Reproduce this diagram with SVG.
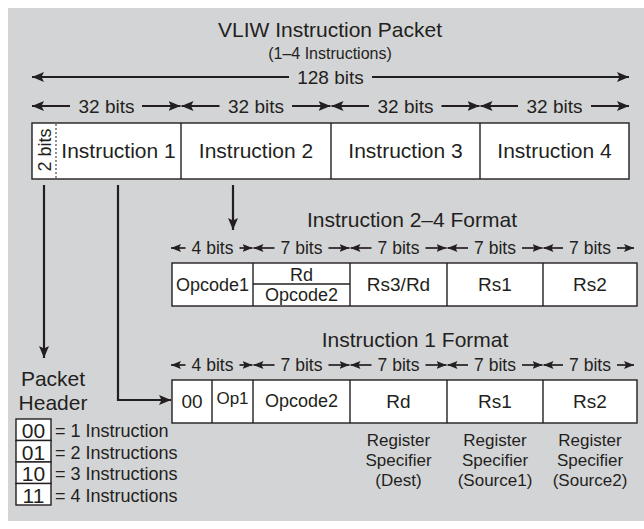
<svg xmlns="http://www.w3.org/2000/svg" width="644" height="529" viewBox="0 0 644 529">
  <style>
    text { font-family: "Liberation Sans", Arial, sans-serif; fill: #231f20; text-anchor: middle; }
    .title { font-size: 21px; }
    .sub { font-size: 16px; }
    .w32 { font-size: 19px; }
    .w7 { font-size: 17.5px; }
    .cell { font-size: 21px; }
    .fld { font-size: 19px; }
    .fs { font-size: 18px; }
    .note { font-size: 17px; }
    .leg { font-size: 18px; text-anchor: start; }
    .box { fill: #ffffff; stroke: #231f20; stroke-width: 1.4; }
    .div { stroke: #231f20; stroke-width: 1.4; fill: none; }
    .dot { stroke: #555; stroke-width: 1.3; stroke-dasharray: 2 2; }
    .big { stroke: #231f20; stroke-width: 2.2; fill: none; marker-end: url(#ah); }
    .small { stroke: #231f20; stroke-width: 1.7; fill: none; marker-end: url(#ahs); }
  </style>
  <defs>
    <marker id="ah" viewBox="0 0 12 10" refX="12" refY="5" markerWidth="12" markerHeight="10" markerUnits="userSpaceOnUse" orient="auto">
      <path d="M0,0 L12,5 L0,10 L2.5,5 z" fill="#231f20"/>
    </marker>
    <marker id="ahs" viewBox="0 0 10 8" refX="10" refY="4" markerWidth="10" markerHeight="8" markerUnits="userSpaceOnUse" orient="auto">
      <path d="M0,0 L10,4 L0,8 L2,4 z" fill="#231f20"/>
    </marker>
  </defs>

  <!-- panel -->
  <rect x="8" y="8" width="636" height="513" fill="#d3d4d6"/>

  <g id="title">
    <text class="title" x="330" y="37">VLIW Instruction Packet</text>
    <text class="sub" x="330" y="59">(1–4 Instructions)</text>
  </g>

  <!-- width labels -->
  <g id="widths">
    <text class="w32" x="330.5" y="84">128 bits</text>
    <text class="w32" x="106.5" y="113">32 bits</text>
    <text class="w32" x="256" y="113">32 bits</text>
    <text class="w32" x="405.5" y="113">32 bits</text>
    <text class="w32" x="554.5" y="113">32 bits</text>

    <text class="w7" x="212.5" y="254">4 bits</text>
    <text class="w7" x="301.5" y="254">7 bits</text>
    <text class="w7" x="398.5" y="254">7 bits</text>
    <text class="w7" x="495" y="254">7 bits</text>
    <text class="w7" x="590" y="254">7 bits</text>

    <text class="w7" x="212.5" y="371">4 bits</text>
    <text class="w7" x="301.5" y="371">7 bits</text>
    <text class="w7" x="398.5" y="371">7 bits</text>
    <text class="w7" x="495" y="371">7 bits</text>
    <text class="w7" x="590" y="371">7 bits</text>
  </g>

  <!-- 128-bit packet -->
  <g id="packet">
    <rect class="box" x="32" y="123" width="597" height="56"/>
    <line class="dot" x1="56" y1="124" x2="56" y2="178"/>
    <line class="div" x1="181" y1="123" x2="181" y2="179"/>
    <line class="div" x1="331" y1="123" x2="331" y2="179"/>
    <line class="div" x1="480" y1="123" x2="480" y2="179"/>
    <text class="fs" transform="translate(51,150) rotate(-90)">2 bits</text>
    <text class="cell" x="118.5" y="158">Instruction 1</text>
    <text class="cell" x="256" y="158">Instruction 2</text>
    <text class="cell" x="405.5" y="158">Instruction 3</text>
    <text class="cell" x="554.5" y="158">Instruction 4</text>
  </g>

  <!-- instruction 2-4 format -->
  <g id="format24">
    <text class="title" x="412" y="227">Instruction 2–4 Format</text>
    <rect class="box" x="172" y="263" width="465" height="43"/>
    <line class="div" x1="253" y1="263" x2="253" y2="306"/>
    <line class="div" x1="350" y1="263" x2="350" y2="306"/>
    <line class="div" x1="447" y1="263" x2="447" y2="306"/>
    <line class="div" x1="543" y1="263" x2="543" y2="306"/>
    <line class="div" x1="253" y1="284" x2="350" y2="284"/>
    <text class="fs" x="212.5" y="291">Opcode1</text>
    <text class="fs" x="301.5" y="281">Rd</text>
    <text class="fs" x="301.5" y="301">Opcode2</text>
    <text class="fld" x="398.5" y="291">Rs3/Rd</text>
    <text class="fld" x="495" y="291">Rs1</text>
    <text class="fld" x="590" y="291">Rs2</text>
  </g>

  <!-- instruction 1 format -->
  <g id="format1">
    <text class="title" x="415" y="347">Instruction 1 Format</text>
    <rect class="box" x="172" y="380" width="465" height="43"/>
    <line class="div" x1="212" y1="380" x2="212" y2="423"/>
    <line class="div" x1="253" y1="380" x2="253" y2="423"/>
    <line class="div" x1="350" y1="380" x2="350" y2="423"/>
    <line class="div" x1="447" y1="380" x2="447" y2="423"/>
    <line class="div" x1="543" y1="380" x2="543" y2="423"/>
    <text class="fld" x="192" y="408">00</text>
    <text class="note" x="232.5" y="404">Op1</text>
    <text class="fs" x="301.5" y="407">Opcode2</text>
    <text class="fld" x="398.5" y="408">Rd</text>
    <text class="fld" x="495" y="408">Rs1</text>
    <text class="fld" x="590" y="408">Rs2</text>
    <text class="note" x="398.5" y="446">Register</text>
    <text class="note" x="398.5" y="466">Specifier</text>
    <text class="note" x="398.5" y="486">(Dest)</text>
    <text class="note" x="495" y="446">Register</text>
    <text class="note" x="495" y="466">Specifier</text>
    <text class="note" x="495" y="486">(Source1)</text>
    <text class="note" x="590" y="446">Register</text>
    <text class="note" x="590" y="466">Specifier</text>
    <text class="note" x="590" y="486">(Source2)</text>
  </g>

  <!-- packet header legend -->
  <g id="header">
    <text class="title" x="53" y="386">Packet</text>
    <text class="title" x="53" y="410">Header</text>
    <rect class="box" x="16" y="419" width="35" height="21.5"/>
    <rect class="box" x="16" y="440.5" width="35" height="21.5"/>
    <rect class="box" x="16" y="462" width="35" height="21.5"/>
    <rect class="box" x="16" y="483.5" width="35" height="21.5"/>
    <text class="cell" x="33.5" y="438">00</text>
    <text class="cell" x="33.5" y="459.5">01</text>
    <text class="cell" x="33.5" y="481">10</text>
    <text class="cell" x="33.5" y="502.5">11</text>
    <text class="leg" x="55" y="437">= 1 Instruction</text>
    <text class="leg" x="55" y="458.5">= 2 Instructions</text>
    <text class="leg" x="55" y="480">= 3 Instructions</text>
    <text class="leg" x="55" y="501.5">= 4 Instructions</text>
  </g>

  <g id="connectors">
    <!-- 128 bits -->
    <line class="big" x1="289" y1="77" x2="32" y2="77"/>
    <line class="big" x1="372" y1="77" x2="629" y2="77"/>
    <!-- 32 bits -->
    <line class="big" x1="70" y1="106" x2="32" y2="106"/>
    <line class="big" x1="142" y1="106" x2="180.5" y2="106"/>
    <line class="big" x1="219.5" y1="106" x2="181.5" y2="106"/>
    <line class="big" x1="292" y1="106" x2="330.5" y2="106"/>
    <line class="big" x1="369" y1="106" x2="331.5" y2="106"/>
    <line class="big" x1="441.5" y1="106" x2="479.5" y2="106"/>
    <line class="big" x1="518" y1="106" x2="480.5" y2="106"/>
    <line class="big" x1="591" y1="106" x2="629" y2="106"/>
    <!-- 2-4 format widths -->
    <line class="small" x1="185.5" y1="248" x2="171" y2="248"/>
    <line class="small" x1="239.5" y1="248" x2="252.5" y2="248"/>
    <line class="small" x1="274.5" y1="248" x2="253.5" y2="248"/>
    <line class="small" x1="328.5" y1="248" x2="349.5" y2="248"/>
    <line class="small" x1="371.5" y1="248" x2="350.5" y2="248"/>
    <line class="small" x1="425.5" y1="248" x2="446.5" y2="248"/>
    <line class="small" x1="468" y1="248" x2="447.5" y2="248"/>
    <line class="small" x1="522" y1="248" x2="542.5" y2="248"/>
    <line class="small" x1="563" y1="248" x2="543.5" y2="248"/>
    <line class="small" x1="617" y1="248" x2="634" y2="248"/>
    <!-- 1 format widths -->
    <line class="small" x1="185.5" y1="365" x2="171" y2="365"/>
    <line class="small" x1="239.5" y1="365" x2="252.5" y2="365"/>
    <line class="small" x1="274.5" y1="365" x2="253.5" y2="365"/>
    <line class="small" x1="328.5" y1="365" x2="349.5" y2="365"/>
    <line class="small" x1="371.5" y1="365" x2="350.5" y2="365"/>
    <line class="small" x1="425.5" y1="365" x2="446.5" y2="365"/>
    <line class="small" x1="468" y1="365" x2="447.5" y2="365"/>
    <line class="small" x1="522" y1="365" x2="542.5" y2="365"/>
    <line class="small" x1="563" y1="365" x2="543.5" y2="365"/>
    <line class="small" x1="617" y1="365" x2="634" y2="365"/>
    <!-- flow arrows -->
    <line class="big" x1="233" y1="185" x2="233" y2="230"/>
    <line class="big" x1="44" y1="185" x2="44" y2="358"/>
    <path class="big" d="M118,185 V400 H171"/>
  </g>
</svg>
